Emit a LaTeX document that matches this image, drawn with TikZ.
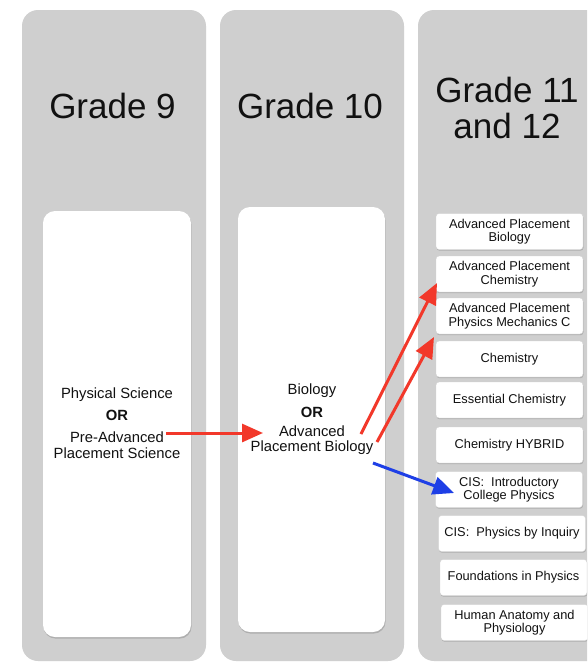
\documentclass[tikz,border=0pt]{standalone}
\usepackage{fontspec}
\setmainfont{Liberation Sans}
\usetikzlibrary{shadows,arrows.meta}
\definecolor{colgray}{HTML}{CFCFCF}
\definecolor{redarrow}{HTML}{F2382A}
\definecolor{bluearrow}{HTML}{1E3FE6}
\definecolor{txt}{HTML}{111111}
\begin{document}
\begin{tikzpicture}[x=1pt,y=-1pt,
  column/.style={fill=colgray, rounded corners=16pt},
  bigbox/.style={fill=white, rounded corners=12pt,
    drop shadow={shadow xshift=0.6pt, shadow yshift=-1.6pt, fill=gray!80, opacity=0.6}},
  course/.style={draw=gray!35, line width=0.4pt, fill=white, rounded corners=3pt,
    minimum width=147pt, minimum height=36pt, align=center, inner sep=1pt,
    text=txt, font=\fontsize{12.8}{13.6}\selectfont,
    drop shadow={shadow xshift=0.5pt, shadow yshift=-1.2pt, fill=gray!80, opacity=0.6}},
  title/.style={font=\fontsize{35}{36}\selectfont, align=center, text=txt},
  midtext/.style={font=\fontsize{14.8}{15.5}\selectfont, align=center, text=txt},
  ortext/.style={font=\fontsize{14.8}{15.5}\selectfont\bfseries, text=txt},
  redarr/.style={draw=redarrow, line width=3pt, -{Triangle[length=21pt,width=18pt]}},
  bluearr/.style={draw=bluearrow, line width=3pt, -{Triangle[length=21pt,width=18pt]}}
]
\useasboundingbox (0,0) rectangle (587,662);
\clip (0,0) rectangle (587,662);
\fill[white] (0,0) rectangle (587,662);

% columns
\path[column] (22,10) rectangle (206,661);
\path[column] (220,10) rectangle (404,661);
\path[column] (418,10) rectangle (640,661);

% titles
\node[title] (t9) at (112.5,106) {Grade 9};
\node[title] (t10) at (310,106) {Grade 10};
\node[title] (t11) at (507,107.5) {Grade 11\\and 12};

% big white boxes
\path[bigbox] (43,211) rectangle (191,637);
\path[bigbox] (238,207) rectangle (385,632);

% grade 9 text
\node[midtext] (g9a) at (117,395) {Physical Science};
\node[ortext] (g9b) at (117,415) {OR};
\node[midtext] (g9c) at (117,445) {Pre-Advanced\\Placement Science};

% grade 10 text
\node[midtext] (g10a) at (312,391) {Biology};
\node[ortext] (g10b) at (312,412) {OR};
\node[midtext] (g10c) at (312,440) {Advanced\\Placement Biology};

% courses
\node[course] (c1) at (509.5,231.5) {Advanced Placement\\Biology};
\node[course] (c2) at (509.5,274) {Advanced Placement\\Chemistry};
\node[course] (c3) at (509.5,316) {Advanced Placement\\Physics Mechanics C};
\node[course] (c4) at (509.5,359) {Chemistry};
\node[course] (c5) at (509.5,400) {Essential Chemistry};
\node[course] (c6) at (509.5,445) {Chemistry HYBRID};
\node[course] (c7) at (509,489.5) {CIS:\ \ Introductory\\College Physics};
\node[course] (c8) at (512,533.5) {CIS:\ \ Physics by Inquiry};
\node[course] (c9) at (513.5,577.5) {Foundations in Physics};
\node[course] (c10) at (514.5,622.5) {Human Anatomy and\\Physiology};

% arrow end points
\coordinate (a1s) at (166,433);
\coordinate (a1e) at (263,433);
\coordinate (a2s) at (361,434);
\coordinate (a2e) at (437,283);
\coordinate (a3s) at (377,442);
\coordinate (a3e) at (434,337);
\coordinate (b1s) at (373,463);
\coordinate (b1e) at (454,493);

\draw[redarr] (a1s) -- (a1e);
\draw[redarr] (a2s) -- (a2e);
\draw[redarr] (a3s) -- (a3e);
\draw[bluearr] (b1s) -- (b1e);
\end{tikzpicture}
\end{document}
